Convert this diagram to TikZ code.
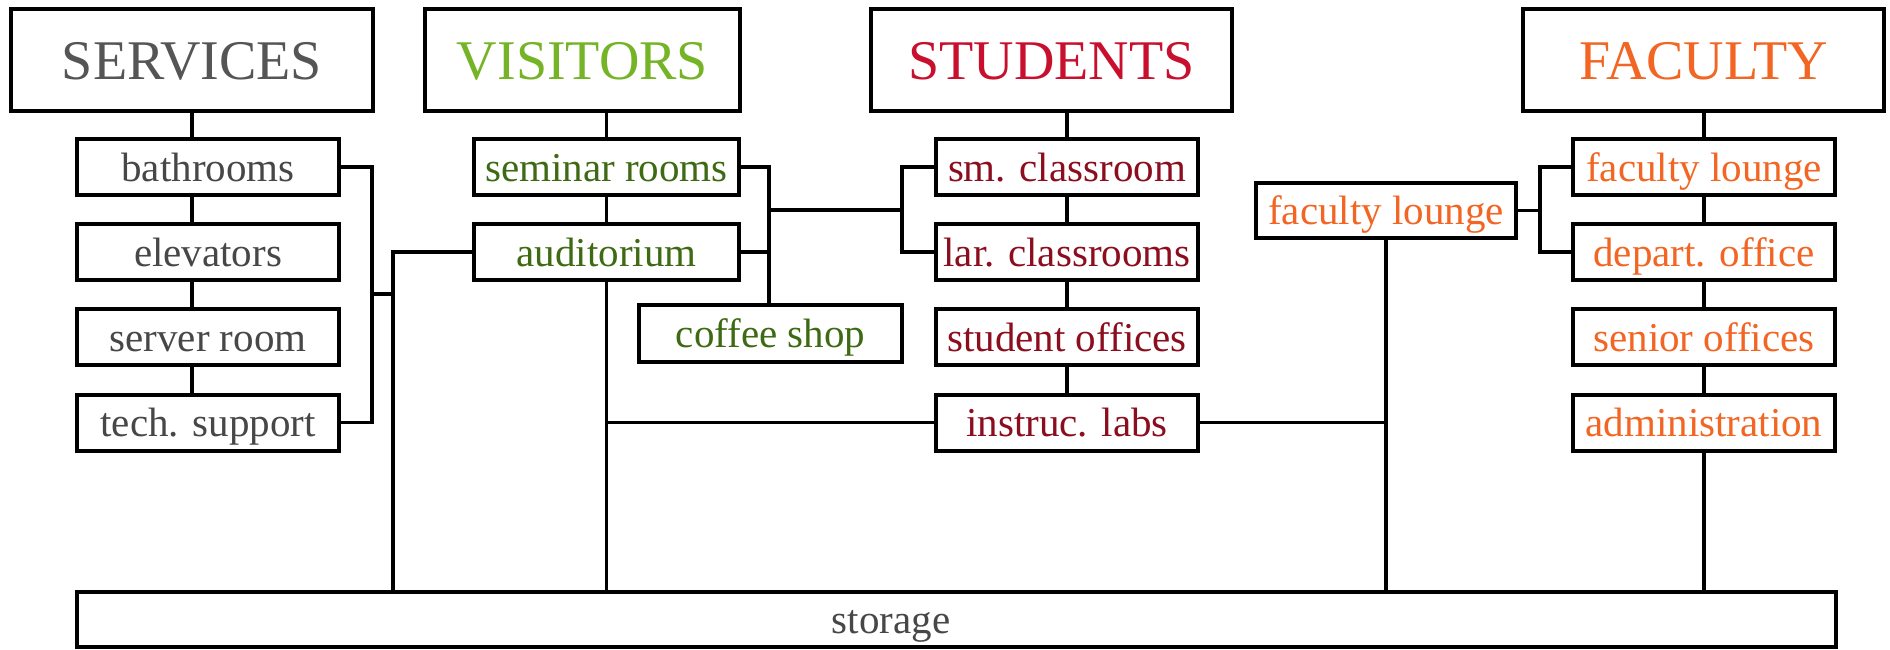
\documentclass[tikz,border=0pt]{standalone}
\usepackage{fontspec}
\setmainfont{Liberation Serif}
\definecolor{servgray}{HTML}{555555}
\definecolor{servtext}{HTML}{474747}
\definecolor{visgreen}{HTML}{74B426}
\definecolor{vistext}{HTML}{3D6A12}
\definecolor{studred}{HTML}{C8102E}
\definecolor{studtext}{HTML}{8B0D1E}
\definecolor{facorange}{HTML}{F26522}

\begin{document}
\begin{tikzpicture}[x=1pt,y=-1pt,
    box/.style={draw,line width=4pt,fill=white,inner sep=0pt,outer sep=0pt,
      font=\fontsize{41}{44}\selectfont,text height=28pt,text depth=0pt},
    head/.style={box,font=\fontsize{56}{60}\selectfont,text height=38pt,
      minimum height=102pt},
    room/.style={box,minimum width=262pt,minimum height=56pt},
    link/.style={line width=3.4pt}]
        \useasboundingbox (0,0) rectangle (1890,649);
        % headers
        \node[head,minimum width=362pt,text=servgray] (serv) at (192,60) {SERVICES};
        \node[head,minimum width=315pt,text=visgreen] (vis) at (582.5,60) {VISITORS};
        \node[head,minimum width=361pt,text=studred] (stud) at (1051.5,60) {STUDENTS};
        \node[head,minimum width=361pt,text=facorange] (fac) at (1703.5,60) {FACULTY};
        % services
        \node[room,text=servtext] (bath) at (208,167) {bathrooms};
        \node[room,text=servtext] (elev) at (208,252) {elevators};
        \node[room,text=servtext] (srvr) at (208,337) {server room};
        \node[room,text=servtext] (tech) at (208,422.5) {tech. support};
        % visitors
        \node[room,minimum width=265pt,text=vistext] (semi) at (606.5,167) {seminar rooms};
        \node[room,minimum width=265pt,text=vistext] (aud) at (606.5,252) {auditorium};
        \node[room,minimum width=263pt,minimum height=57pt,text=vistext] (coffee) at (770.5,333.5) {coffee shop};
        % students
        \node[room,text=studtext] (sm) at (1067,167) {sm. classroom};
        \node[room,text=studtext] (lar) at (1067,252) {lar. classrooms};
        \node[room,text=studtext] (soff) at (1067,337) {student offices};
        \node[room,text=studtext] (labs) at (1067,422.5) {instruc. labs};
        % faculty
        \node[room,minimum width=260pt,minimum height=55pt,text=facorange] (flmid) at (1386,210.5) {faculty lounge};
        \node[room,text=facorange] (flo) at (1704,167) {faculty lounge};
        \node[room,text=facorange] (dep) at (1704,252) {depart. office};
        \node[room,text=facorange] (sen) at (1704,337) {senior offices};
        \node[room,text=facorange] (adm) at (1704,422.5) {administration};
        % storage
        \node[box,minimum width=1759pt,minimum height=55pt] (store) at (956.5,619) {};
        \node[font=\fontsize{41}{44}\selectfont,text=servtext,text height=28pt,text depth=0pt,inner sep=0pt] (storetxt) at (891,619) {storage};

        % services links
        \foreach \a/\b in {serv/bath,bath/elev,elev/srvr,srvr/tech}
          \draw[link] (\a.south -| serv.south) -- (\b.north -| serv.south);
        \coordinate (sjn) at (372,294);
        \coordinate (sbus) at (393,252);
        \draw[link] (bath.east) -| (sjn) |- (tech.east);
        \draw[link] (sjn) -- (sjn -| sbus);
        \draw[link] (aud.west) -- (sbus) -- (sbus |- store.north);
        % visitors links
        \draw[link] (vis.south -| semi.north) -- (semi.north);
        \draw[link] (semi.south) -- (aud.north);
        \draw[link] (aud.south) -- (aud.south |- store.north);
        \coordinate (vjn) at (769,210);
        \draw[link] (semi.east) -| (coffee.north -| vjn);
        \draw[link] (aud.east) -- (aud.east -| vjn);
        % students links
        \coordinate (tjn) at (902,210);
        \draw[link] (vjn) -- (tjn);
        \draw[link] (sm.west) -| (tjn) |- (lar.west);
        \draw[link] (stud.south -| sm.north) -- (sm.north);
        \foreach \a/\b in {sm/lar,lar/soff,soff/labs}
          \draw[link] (\a.south) -- (\b.north);
        \draw[link] (labs.west -| aud.south) -- (labs.west);
        \draw[link] (labs.east) -- (labs.east -| flmid.south);
        \draw[link] (flmid.south) -- (flmid.south |- store.north);
        % faculty links
        \coordinate (fjn) at (1540,210.5);
        \draw[link] (flmid.east) -- (fjn);
        \draw[link] (flo.west) -| (fjn) |- (dep.west);
        \draw[link] (fac.south -| flo.north) -- (flo.north);
        \foreach \a/\b in {flo/dep,dep/sen,sen/adm}
          \draw[link] (\a.south) -- (\b.north);
        \draw[link] (adm.south) -- (adm.south |- store.north);
\end{tikzpicture}
\end{document}
